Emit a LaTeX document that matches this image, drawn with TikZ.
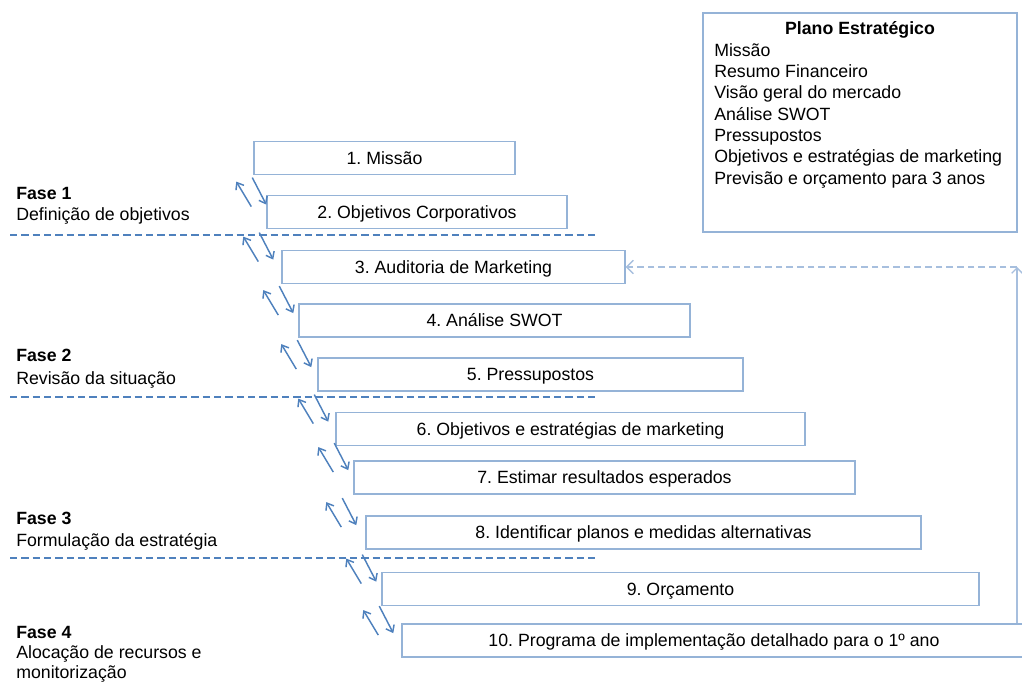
\documentclass[tikz,border=0pt]{standalone}
\usepackage{fontspec}
\setmainfont{Liberation Sans}
\usetikzlibrary{arrows.meta,calc}
\definecolor{boxblue}{HTML}{95B3D7}
\definecolor{arrblue}{HTML}{4F81BD}
\definecolor{fbblue}{HTML}{A7BFDE}
\frenchspacing
\begin{document}
\begin{tikzpicture}[x=0.75pt,y=-0.75pt,
  every node/.style={font=\fontsize{13.3}{16}\selectfont, text=black},
  stepbox/.style={draw=boxblue, line width=1.1pt, inner sep=0pt, fill=white,
    minimum height=25pt, text height=9.5pt, text depth=0pt},
  planbox/.style={draw=boxblue, line width=1.1pt, inner sep=0pt},
  linkarrow/.style={draw=arrblue, line width=1.1pt, -{Straight Barb[length=4.5pt,width=7pt]}},
  phaseline/.style={draw=arrblue, line width=0.9pt, dash pattern=on 5.5pt off 3pt},
  fbline/.style={draw=fbblue, line width=1pt},
  fbdash/.style={draw=fbblue, line width=1pt, dash pattern=on 5pt off 3pt},
  txt/.style={anchor=base west, inner sep=0pt},
  phasetitle/.style={anchor=base west, inner sep=0pt, font=\fontsize{13.3}{16}\selectfont\bfseries}
]
\useasboundingbox (0,0) rectangle (1022,682);

% phase separator lines
\draw[phaseline] (10,235) -- (597,235);
\draw[phaseline] (10,397) -- (597,397);
\draw[phaseline] (10,558) -- (597,558);

% step boxes
\node[stepbox, minimum width=195.75pt] (b1) at (384.5,158) {1. Missão};
\node[stepbox, minimum width=225pt] (b2) at (417,212) {2. Objetivos Corporativos};
\node[stepbox, minimum width=257.25pt] (b3) at (453.5,267) {3. Auditoria de Marketing};
\node[stepbox, minimum width=293.25pt] (b4) at (494.5,320.5) {4. Análise SWOT};
\node[stepbox, minimum width=318.75pt] (b5) at (530.5,374.5) {5. Pressupostos};
\node[stepbox, minimum width=351.75pt] (b6) at (570.5,429) {6. Objetivos e estratégias de marketing};
\node[stepbox, minimum width=375.75pt] (b7) at (604.5,477.5) {7. Estimar resultados esperados};
\node[stepbox, minimum width=416.25pt] (b8) at (643.5,532.5) {8. Identificar planos e medidas alternativas};
\node[stepbox, minimum width=447.75pt] (b9) at (680.5,589) {9. Orçamento};
\node[stepbox, minimum width=468pt] (b10) at (714,640.5) {10. Programa de implementação detalhado para o 1º ano};

% link arrow pairs between consecutive steps
\foreach \b/\s in {b2/-15, b3/-23, b4/-20, b5/-21, b6/-22, b7/-20, b8/-24, b9/-20, b10/-23}{
  \draw[linkarrow] ($(\b.north west)+(\s,12)$) -- ($(\b.north west)+(\s-15,-13)$);
  \draw[linkarrow] ($(\b.north west)+(\s+1,-17)$) -- ($(\b.north west)+(\s+15,10)$);
}

% feedback loop
\coordinate (fbc) at (1017,267);
\draw[fbline, -{Straight Barb[length=4pt,width=8pt]}] (b10.north -| fbc) -- (fbc);
\draw[fbdash, -{Straight Barb[length=5pt,width=10pt]}] (fbc) -- (b3.east);

% plan box
\node[planbox, minimum width=235.5pt, minimum height=164.25pt] (plan) at (860,122.5) {};
\node[anchor=base, inner sep=0pt, font=\fontsize{13.3}{16}\selectfont\bfseries] (ptitle) at (860,34) {Plano Estratégico};
\node[txt] (p1) at (714,56) {Missão};
\node[txt] (p2) at (714,77.3) {Resumo Financeiro};
\node[txt] (p3) at (714,98.7) {Visão geral do mercado};
\node[txt] (p4) at (714,120) {Análise SWOT};
\node[txt] (p5) at (714,141.3) {Pressupostos};
\node[txt] (p6) at (714,162.7) {Objetivos e estratégias de marketing};
\node[txt] (p7) at (714,184) {Previsão e orçamento para 3 anos};

% phase labels
\node[phasetitle] (f1) at (16,199) {Fase 1};
\node[txt] (f1b) at (16,220) {Definição de objetivos};
\node[phasetitle] (f2) at (16,361) {Fase 2};
\node[txt] (f2b) at (16,384) {Revisão da situação};
\node[phasetitle] (f3) at (16,524) {Fase 3};
\node[txt] (f3b) at (16,546) {Formulação da estratégia};
\node[phasetitle] (f4) at (16,638) {Fase 4};
\node[txt] (f4b) at (16,658) {Alocação de recursos e};
\node[txt] (f4c) at (16,678) {monitorização};
\end{tikzpicture}
\end{document}
